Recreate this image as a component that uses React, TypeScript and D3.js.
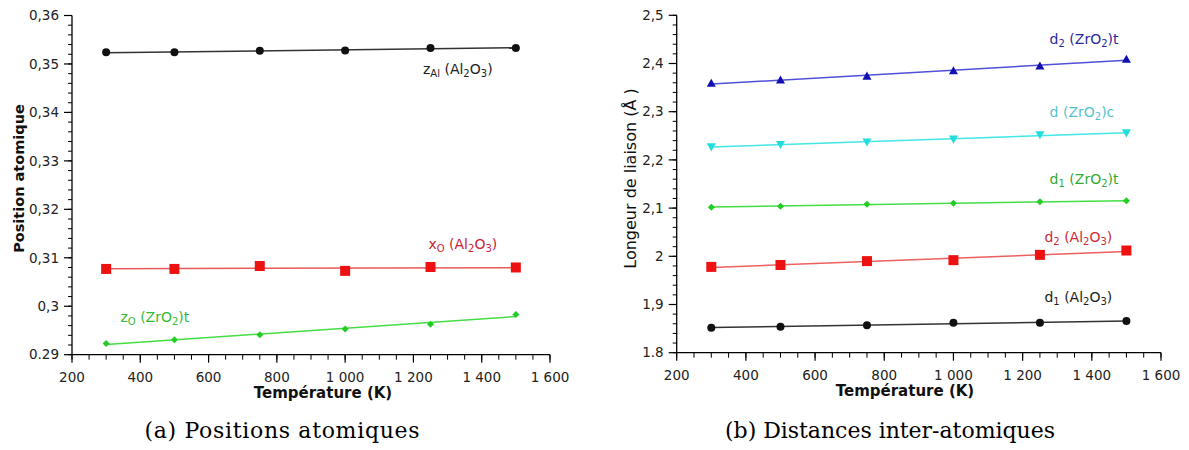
import React from "react";
import * as d3 from "d3";

// ---------- data ----------
const temps = [300, 500, 750, 1000, 1250, 1500];

// (a) Positions atomiques
const zAl = [0.3524, 0.3524, 0.3527, 0.3528, 0.3533, 0.3533];
const xO = [0.3077, 0.3077, 0.3083, 0.3073, 0.3081, 0.3080];
const zO = [0.2923, 0.2931, 0.2941, 0.2953, 0.2963, 0.2983];

// (b) Distances inter-atomiques
const d2ZrO2t = [2.359, 2.366, 2.374, 2.385, 2.395, 2.409];
const dZrO2c = [2.227, 2.232, 2.237, 2.243, 2.252, 2.256];
const d1ZrO2t = [2.102, 2.104, 2.108, 2.110, 2.113, 2.115];
const d2Al2O3 = [1.978, 1.982, 1.990, 1.992, 2.003, 2.012];
const d1Al2O3 = [1.852, 1.854, 1.857, 1.862, 1.862, 1.866];

const xTicks = [200, 400, 600, 800, 1000, 1200, 1400, 1600];
const xTickLabels = ["200", "400", "600", "800", "1 000", "1 200", "1 400", "1 600"];
const yTicksA = [0.29, 0.3, 0.31, 0.32, 0.33, 0.34, 0.35, 0.36];
const yTickLabelsA = ["0.29", "0,3", "0,31", "0,32", "0,33", "0,34", "0,35", "0,36"];
const yTicksB = [1.8, 1.9, 2.0, 2.1, 2.2, 2.3, 2.4, 2.5];
const yTickLabelsB = ["1.8", "1,9", "2", "2,1", "2,2", "2,3", "2,4", "2,5"];

// label parts: [text, isSub]
type Part = [string, boolean];
const labelZAl: Part[] = [["z", false], ["Al", true], [" (Al", false], ["2", true], ["O", false], ["3", true], [")", false]];
const labelXO: Part[] = [["x", false], ["O", true], [" (Al", false], ["2", true], ["O", false], ["3", true], [")", false]];
const labelZO: Part[] = [["z", false], ["O", true], [" (ZrO", false], ["2", true], [")t", false]];
const labelD2Zt: Part[] = [["d", false], ["2", true], [" (ZrO", false], ["2", true], [")t", false]];
const labelDZc: Part[] = [["d (ZrO", false], ["2", true], [")c", false]];
const labelD1Zt: Part[] = [["d", false], ["1", true], [" (ZrO", false], ["2", true], [")t", false]];
const labelD2A: Part[] = [["d", false], ["2", true], [" (Al", false], ["2", true], ["O", false], ["3", true], [")", false]];
const labelD1A: Part[] = [["d", false], ["1", true], [" (Al", false], ["2", true], ["O", false], ["3", true], [")", false]];

type Series = {
  values: number[];
  line: string;
  marker: string;
  shape: "circle" | "square" | "diamond" | "triUp" | "triDown";
  size: number;
  label: Part[];
  labelColor: string;
  lx: number; // label anchor in data coords
  ly: number;
};

const FONT = "'DejaVu Sans', Verdana, sans-serif";

function fit(xs: number[], ys: number[]) {
  const mx = d3.mean(xs)!;
  const my = d3.mean(ys)!;
  let num = 0, den = 0;
  xs.forEach((x, i) => { num += (x - mx) * (ys[i] - my); den += (x - mx) ** 2; });
  const b = num / den;
  return (x: number) => my + b * (x - mx);
}

function Marker({ shape, cx, cy, size, color }: { shape: Series["shape"]; cx: number; cy: number; size: number; color: string }) {
  const s = size / 2;
  if (shape === "circle") return <circle cx={cx} cy={cy} r={s} fill={color} />;
  if (shape === "square") return <rect x={cx - s} y={cy - s} width={size} height={size} fill={color} />;
  if (shape === "diamond") return <path d={`M${cx},${cy - s}L${cx + s},${cy}L${cx},${cy + s}L${cx - s},${cy}Z`} fill={color} />;
  if (shape === "triUp") return <path d={`M${cx},${cy - s}L${cx + s},${cy + s * 0.8}L${cx - s},${cy + s * 0.8}Z`} fill={color} />;
  return <path d={`M${cx},${cy + s}L${cx + s},${cy - s * 0.8}L${cx - s},${cy - s * 0.8}Z`} fill={color} />;
}

function Label({ parts, x, y, color }: { parts: Part[]; x: number; y: number; color: string }) {
  return (
    <text x={x} y={y} fill={color} fontFamily={FONT} fontSize={14} textAnchor="start">
      {parts.map(([t, sub], i) =>
        sub ? (
          <tspan key={i} fontSize={10} dy={3}>{t}</tspan>
        ) : (
          <tspan key={i} dy={i > 0 && parts[i - 1][1] ? -3 : 0}>{t}</tspan>
        )
      )}
    </text>
  );
}

function Panel(props: {
  x0: number; x1: number; yTop: number; yBot: number;
  yDomain: [number, number]; yTicks: number[]; yLabels: string[]; yMinorStep: number;
  series: Series[]; yTitle: string; yTitleY: number; yTitleX: number; xTitleX: number;
  yTitleSize: number; yTitleWeight: string;
}) {
  const { x0, x1, yTop, yBot, yDomain, yTicks, yLabels, yMinorStep, series } = props;
  const x = d3.scaleLinear().domain([200, 1600]).range([x0, x1]);
  const y = d3.scaleLinear().domain(yDomain).range([yBot, yTop]);
  const xMinor = d3.range(200, 1600.001, 50);
  const nMinor = Math.round((yDomain[1] - yDomain[0]) / yMinorStep);
  const yMinor = d3.range(0, nMinor + 1).map((i) => yDomain[0] + i * yMinorStep);
  return (
    <g>
      {/* axes */}
      <line x1={x0} x2={x0} y1={yTop} y2={yBot} stroke="#000" strokeWidth={1.3} />
      <line x1={x0} x2={x1} y1={yBot} y2={yBot} stroke="#000" strokeWidth={1.3} />
      {yMinor.map((v, i) => (
        <line key={"ym" + i} x1={x0 - 4} x2={x0} y1={y(v)} y2={y(v)} stroke="#000" strokeWidth={1} />
      ))}
      {yTicks.map((v, i) => (
        <g key={"y" + i}>
          <line x1={x0 - 8} x2={x0} y1={y(v)} y2={y(v)} stroke="#000" strokeWidth={1.2} />
          <text x={x0 - 13} y={y(v)} dy="0.35em" textAnchor="end" fontFamily={FONT} fontSize={13.5} fill="#222">{yLabels[i]}</text>
        </g>
      ))}
      {xMinor.map((v, i) => (
        <line key={"xm" + i} x1={x(v)} x2={x(v)} y1={yBot} y2={yBot + 5} stroke="#000" strokeWidth={1} />
      ))}
      {xTicks.map((v, i) => (
        <g key={"x" + i}>
          <line x1={x(v)} x2={x(v)} y1={yBot} y2={yBot + 8} stroke="#000" strokeWidth={1.2} />
          <text x={x(v)} y={yBot + 27} textAnchor="middle" fontFamily={FONT} fontSize={13.5} fill="#222">{xTickLabels[i]}</text>
        </g>
      ))}
      <text x={props.xTitleX} y={yBot + 43} textAnchor="middle" fontFamily={FONT} fontSize={15} fontWeight="bold" fill="#111">Température (K)</text>
      <text transform={`translate(${props.yTitleX},${props.yTitleY}) rotate(-90)`} textAnchor="middle" fontFamily={FONT} fontSize={props.yTitleSize} fontWeight={props.yTitleWeight} fill="#111">{props.yTitle}</text>
      {series.map((s, k) => {
        const f = fit(temps, s.values);
        const t0 = temps[0], t1 = temps[temps.length - 1];
        return (
          <g key={"s" + k}>
            <line x1={x(t0)} y1={y(f(t0))} x2={x(t1)} y2={y(f(t1))} stroke={s.line} strokeWidth={1.5} />
            {temps.map((t, i) => (
              <Marker key={i} shape={s.shape} cx={x(t)} cy={y(s.values[i])} size={s.size} color={s.marker} />
            ))}
            <Label parts={s.label} x={x(s.lx)} y={y(s.ly)} color={s.labelColor} />
          </g>
        );
      })}
    </g>
  );
}

export default function App() {
  const seriesA: Series[] = [
    { values: zAl, line: "#333", marker: "#111", shape: "circle", size: 8, label: labelZAl, labelColor: "#222", lx: 1228, ly: 0.3479 },
    { values: xO, line: "#e85a5a", marker: "#ee1111", shape: "square", size: 10, label: labelXO, labelColor: "#cc2233", lx: 1244, ly: 0.3118 },
    { values: zO, line: "#44dd44", marker: "#22cc22", shape: "diamond", size: 7, label: labelZO, labelColor: "#33bb33", lx: 342, ly: 0.2967 },
  ];
  const seriesB: Series[] = [
    { values: d2ZrO2t, line: "#5050d8", marker: "#1010b0", shape: "triUp", size: 9, label: labelD2Zt, labelColor: "#2a2a99", lx: 1278, ly: 2.44 },
    { values: dZrO2c, line: "#44e6e6", marker: "#22dddd", shape: "triDown", size: 9, label: labelDZc, labelColor: "#55c4cc", lx: 1278, ly: 2.29 },
    { values: d1ZrO2t, line: "#44dd44", marker: "#22cc22", shape: "diamond", size: 7, label: labelD1Zt, labelColor: "#33aa33", lx: 1278, ly: 2.15 },
    { values: d2Al2O3, line: "#ee6060", marker: "#ee1111", shape: "square", size: 10, label: labelD2A, labelColor: "#d02838", lx: 1263, ly: 2.029 },
    { values: d1Al2O3, line: "#333", marker: "#111", shape: "circle", size: 8, label: labelD1A, labelColor: "#222", lx: 1263, ly: 1.905 },
  ];
  return (
    <svg width={1189} height={450} style={{ position: "absolute", left: 0, top: 0, background: "#fff" }}>
      <rect width={1189} height={450} fill="#fff" />
      <Panel x0={72} x1={550} yTop={15.5} yBot={354.7} yDomain={[0.29, 0.36]} yTicks={yTicksA} yLabels={yTickLabelsA}
        yMinorStep={0.002} series={seriesA} yTitle="Position atomique" yTitleX={24} yTitleY={178.5} xTitleX={323}
        yTitleSize={14.5} yTitleWeight="bold" />
      <Panel x0={676.7} x1={1161} yTop={15.3} yBot={352.7} yDomain={[1.8, 2.5]} yTicks={yTicksB} yLabels={yTickLabelsB}
        yMinorStep={0.02} series={seriesB} yTitle="Longeur de liaison (Å )" yTitleX={636} yTitleY={178.5} xTitleX={905}
        yTitleSize={16} yTitleWeight="normal" />
      <text x={282} y={438} textAnchor="middle" fontFamily="'DejaVu Serif', serif" fontSize={22} fontWeight={300} textLength={275} lengthAdjust="spacing">(a) Positions atomiques</text>
      <text x={890} y={438} textAnchor="middle" fontFamily="'DejaVu Serif', serif" fontSize={22} fontWeight={300} textLength={330} lengthAdjust="spacing">(b) Distances inter-atomiques</text>
    </svg>
  );
}
